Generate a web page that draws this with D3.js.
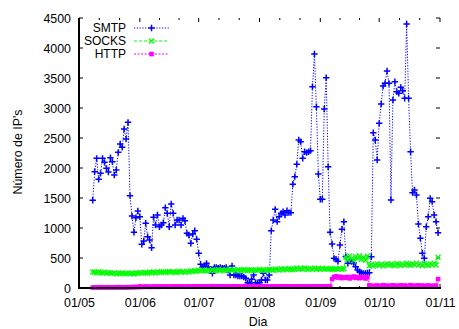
<!DOCTYPE html>
<html>
<head>
<meta charset="utf-8">
<script src="https://cdn.jsdelivr.net/npm/d3@7/dist/d3.min.js"></script>
<style>
  html, body { margin: 0; padding: 0; background: #fff; }
  svg { display: block; }
  text { font-family: "Liberation Sans", Arial, Helvetica, sans-serif; font-size: 12.4px; fill: #000; }
  .legend text { font-size: 12px; }
</style>
</head>
<body>
<svg id="chart" width="459" height="329"></svg>
<script>
// Daily counts of distinct IPs per protocol, 8 May – 31 Oct
const startDay = new Date(2009, 4, 8);
const seriesNames = ["SMTP", "SOCKS", "HTTP"];
const monthTicks = ["01/05", "01/06", "01/07", "01/08", "01/09", "01/10", "01/11"];
const yTicks = [0, 500, 1000, 1500, 2000, 2500, 3000, 3500, 4000, 4500];

const smtp = [
  1462, 1939, 2161, 1811, 1911, 2161, 2094, 1994, 1933, 2172,
  2106, 1883, 1967, 2261, 2400, 2344, 2650, 2483, 2761, 1539,
  1200, 928, 1172, 1283, 1189, 728, 783, 1078, 856, 800,
  672, 1178, 1050, 1217, 1022, 1050, 1089, 1339, 1244, 1022,
  1400, 1244, 1050, 1133, 1133, 1050, 1161, 1122, 911, 883,
  744, 900, 956, 811, 578, 394, 344, 367, 411, 344,
  311, 244, 344, 344, 328, 344, 328, 328, 344, 300,
  217, 367, 217, 217, 200, 200, 200, 183, 161, 89,
  78, 144, 217, 89, 89, 89, 133, 244, 133, 133,
  217, 956, 1133, 1311, 1106, 1189, 1244, 1272, 1217, 1289,
  1256, 1256, 1728, 1856, 2061, 2467, 2439, 2161, 2272, 2256,
  2272, 2289, 3356, 3900, 3022, 1900, 1478, 1478, 2983, 3506,
  2022, 928, 733, 494, 478, 444, 717, 978, 1106, 522,
  411, 450, 439, 420, 356, 300, 272, 256, 244, 244,
  250, 256, 522, 2589, 2467, 2133, 2744, 3067, 3367, 3411,
  3617, 3411, 1467, 3133, 3439, 3272, 3244, 3344, 3289, 3161,
  4400, 3161, 2272, 1589, 1633, 1550, 1067, 828, 578, 494,
  1022, 1189, 1494, 1439, 1217, 1106, 922
];

const socks = [
  268, 262, 255, 271, 259, 250, 263, 247, 256, 249,
  244, 252, 238, 246, 241, 250, 236, 243, 248, 239,
  245, 233, 251, 242, 256, 248, 261, 253, 244, 262,
  257, 266, 251, 270, 259, 264, 272, 258, 267, 276,
  263, 271, 256, 268, 279, 265, 273, 260, 277, 269,
  282, 274, 288, 279, 295, 286, 301, 292, 284, 298,
  290, 303, 287, 296, 309, 293, 300, 288, 305, 297,
  311, 294, 302, 289, 306, 298, 292, 310, 301, 287,
  296, 305, 291, 300, 294, 308, 297, 303, 289, 299,
  312, 301, 295, 317, 306, 298, 321, 309, 315, 302,
  326, 313, 305, 319, 332, 311, 324, 316, 335, 320,
  308, 327, 318, 331, 312, 325, 317, 329, 314, 322,
  311, 326, 318, 307, 323, 315, 328, 312, 320,
  512, 468, 535, 489, 456, 521, 497, 540, 474, 508, 463, 530,
  372, 391, 365, 383, 402, 377, 395, 368, 388, 406,
  379, 397, 385, 371, 408, 389, 376, 399, 384, 412,
  393, 378, 405, 387, 414, 381, 398, 372, 409, 390,
  376, 402, 388, 415, 384, 512
];

const http = [
  8, 12, 10, 6, 14, 9, 11, 7, 13, 10,
  9, 12, 8, 15, 11, 10, 13, 9, 14, 12,
  16, 13, 18, 15, 22, 17, 20, 24, 19, 21,
  18, 23, 20, 25, 19, 22, 26, 21, 24, 20,
  23, 27, 21, 25, 22, 28, 24, 20, 26, 23,
  25, 21, 27, 24, 22, 28, 25, 23, 26, 21,
  24, 28, 22, 26, 23, 25, 27, 21, 24, 26,
  22, 25, 28, 23, 26, 21, 24, 27, 22, 25,
  23, 26, 21, 28, 24, 22, 25, 27, 23, 26,
  24, 21, 27, 25, 22, 26, 23, 28, 24, 25,
  22, 27, 24, 26, 21, 25, 28, 23, 26, 24,
  25, 22, 27, 24, 26, 23, 28, 25, 22, 27,
  24, 26, 148, 182, 196, 174, 188, 165, 179,
  171, 185, 160, 177, 192, 168, 181, 163, 186, 174, 159, 178,
  44, 31, 38, 27, 42, 35, 29, 46, 33, 40,
  28, 37, 45, 32, 39, 26, 43, 34, 41, 30,
  36, 47, 29, 38, 33, 44, 27, 40, 35, 31,
  42, 28, 37, 33, 39, 148
];

const svg = d3.select("#chart");
const parseTick = d3.timeParse("%d/%m/%Y");
const monthDates = monthTicks.map(t => parseTick(t + "/2009"));

const x = d3.scaleTime()
  .domain([monthDates[0], monthDates[monthDates.length - 1]])
  .range([79, 440]);
const y = d3.scaleLinear().domain([0, 4500]).range([288, 18]);

const dayOf = i => d3.timeDay.offset(startDay, i);
const toPoints = arr => arr.map((v, i) => ({ date: dayOf(i), value: v }));

// minor x ticks split each month into thirds
const minorX = [];
for (let i = 0; i < monthDates.length - 1; i++) {
  const a = x(monthDates[i]), b = x(monthDates[i + 1]);
  minorX.push(a + (b - a) / 3, a + 2 * (b - a) / 3);
}

const frame = svg.append("g");
// bottom and top month ticks
monthDates.forEach(d => {
  const px = x(d);
  frame.append("line").attr("x1", px).attr("x2", px).attr("y1", 288).attr("y2", 284)
    .attr("stroke", "#000").attr("stroke-width", 1);
  frame.append("line").attr("x1", px).attr("x2", px).attr("y1", 18).attr("y2", 22)
    .attr("stroke", "#000").attr("stroke-width", 1);
});
minorX.forEach(px => {
  frame.append("line").attr("x1", px).attr("x2", px).attr("y1", 288).attr("y2", 286)
    .attr("stroke", "#000").attr("stroke-width", 1);
  frame.append("line").attr("x1", px).attr("x2", px).attr("y1", 18).attr("y2", 20)
    .attr("stroke", "#000").attr("stroke-width", 1);
});
// left and right value ticks
yTicks.forEach(v => {
  const py = y(v);
  frame.append("line").attr("x1", 79).attr("x2", 83).attr("y1", py).attr("y2", py)
    .attr("stroke", "#000").attr("stroke-width", 1);
  frame.append("line").attr("x1", 440).attr("x2", 436).attr("y1", py).attr("y2", py)
    .attr("stroke", "#000").attr("stroke-width", 1);
});

// tick labels via d3 axes
const yAxis = d3.axisLeft(y).tickValues(yTicks).tickSize(0).tickPadding(8).tickFormat(d3.format("d"));
const yg = svg.append("g").attr("transform", "translate(79,0)").call(yAxis);
yg.select(".domain").remove();
yg.selectAll("text").attr("font-family", null).attr("font-size", null).attr("dy", "0.36em");

const xAxis = d3.axisBottom(x).tickValues(monthDates).tickSize(0).tickPadding(10)
  .tickFormat((d, i) => monthTicks[i]);
const xg = svg.append("g").attr("transform", "translate(0,288)").call(xAxis);
xg.select(".domain").remove();
xg.selectAll("text").attr("font-family", null).attr("font-size", null);

// axis titles
svg.append("text").attr("x", 258).attr("y", 326).attr("text-anchor", "middle").text("Dia");
svg.append("text").attr("transform", "translate(22,152) rotate(-90)")
  .attr("text-anchor", "middle").text("Número de IP's");

// series
const styles = {
  SMTP:  { color: "#0000ff", dash: "1.2,1.6", data: smtp },
  SOCKS: { color: "#00ff00", dash: "3,2", data: socks },
  HTTP:  { color: "#ff00ff", dash: "2,1.5", data: http }
};

const line = d3.line().x(d => x(d.date)).y(d => y(d.value));

function drawMarker(g, name, cx, cy) {
  const c = styles[name].color;
  if (name === "SMTP") {
    g.append("path").attr("d", `M${cx - 3.2},${cy}H${cx + 3.2}M${cx},${cy - 3.2}V${cy + 3.2}`)
      .attr("stroke", c).attr("stroke-width", 1.5).attr("fill", "none");
  } else if (name === "SOCKS") {
    g.append("path").attr("d", `M${cx - 2.5},${cy - 2.5}L${cx + 2.5},${cy + 2.5}M${cx - 2.5},${cy + 2.5}L${cx + 2.5},${cy - 2.5}`)
      .attr("stroke", c).attr("stroke-width", 1.3).attr("fill", "none");
  } else {
    g.append("rect").attr("x", cx - 2.3).attr("y", cy - 2.3).attr("width", 4.6).attr("height", 4.6)
      .attr("fill", c);
  }
}

seriesNames.forEach(name => {
  const s = styles[name];
  const pts = toPoints(s.data);
  const g = svg.append("g");
  g.append("path").datum(pts).attr("d", line)
    .attr("fill", "none").attr("stroke", s.color).attr("stroke-width", 1)
    .attr("stroke-dasharray", s.dash);
  pts.forEach(p => drawMarker(g, name, x(p.date), y(p.value)));
});

// border: left and bottom
svg.append("line").attr("x1", 79).attr("x2", 79).attr("y1", 18).attr("y2", 289)
  .attr("stroke", "#000").attr("stroke-width", 2);
svg.append("line").attr("x1", 78).attr("x2", 441).attr("y1", 288).attr("y2", 288)
  .attr("stroke", "#000").attr("stroke-width", 2);

// legend
const legend = svg.append("g").attr("class", "legend");
seriesNames.forEach((name, i) => {
  const ly = 28 + i * 13;
  const s = styles[name];
  legend.append("text").attr("x", 126).attr("y", ly).attr("dy", "0.36em")
    .attr("text-anchor", "end").text(name);
  legend.append("line").attr("x1", 134).attr("x2", 169).attr("y1", ly).attr("y2", ly)
    .attr("stroke", s.color).attr("stroke-width", 1).attr("stroke-dasharray", s.dash);
  drawMarker(legend, name, 151.5, ly);
});
</script>
</body>
</html>
